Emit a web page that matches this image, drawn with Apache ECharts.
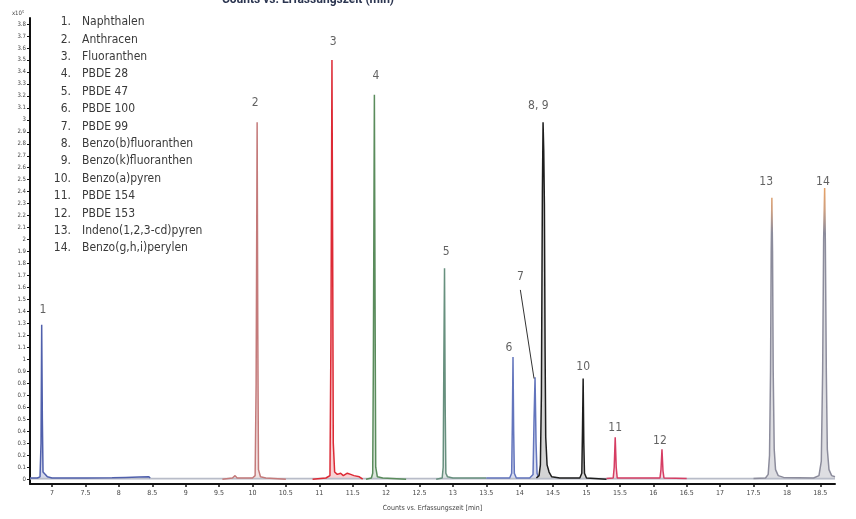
<!DOCTYPE html>
<html>
<head>
<meta charset="utf-8">
<script src="https://cdn.jsdelivr.net/npm/echarts@6/dist/echarts.min.js"></script>
<style>
html,body{margin:0;padding:0;background:#fff;}
#chart{width:856px;height:519px;}
</style>
</head>
<body>
<div id="chart"></div>
<script>
// ---- Data (x: min, y: counts x10^5) ----
const timeTicks = [7, 7.5, 8, 8.5, 9, 9.5, 10, 10.5, 11, 11.5, 12, 12.5, 13, 13.5, 14, 14.5, 15, 15.5, 16, 16.5, 17, 17.5, 18, 18.5];
const countTicks = [0, 0.1, 0.2, 0.3, 0.4, 0.5, 0.6, 0.7, 0.8, 0.9, 1, 1.1, 1.2, 1.3, 1.4, 1.5, 1.6, 1.7, 1.8, 1.9,
  2, 2.1, 2.2, 2.3, 2.4, 2.5, 2.6, 2.7, 2.8, 2.9, 3, 3.1, 3.2, 3.3, 3.4, 3.5, 3.6, 3.7, 3.8];

const compoundNumbers = ['1.', '2.', '3.', '4.', '5.', '6.', '7.', '8.', '9.', '10.', '11.', '12.', '13.', '14.'];
const compoundNames = ['Naphthalen', 'Anthracen', 'Fluoranthen', 'PBDE 28', 'PBDE 47', 'PBDE 100', 'PBDE 99',
  'Benzo(b)fluoranthen', 'Benzo(k)fluoranthen', 'Benzo(a)pyren', 'PBDE 154', 'PBDE 153',
  'Indeno(1,2,3-cd)pyren', 'Benzo(g,h,i)perylen'];

// trace segments (time window, counts)
const baselineTrace = [[6.67, 0.005], [18.72, 0.005]];
const segBlue1 = [[6.67, 0.01], [6.78, 0.01], [6.82, 0.02], [6.835, 0.3], [6.845, 1.29], [6.855, 0.5], [6.865, 0.06],
  [6.88, 0.05], [6.9, 0.04], [6.93, 0.02], [7.0, 0.01], [7.5, 0.01], [7.9, 0.012], [8.1, 0.015], [8.3, 0.018], [8.45, 0.02], [8.47, 0.01]];
const segRose = [[9.55, 0], [9.7, 0.01], [9.74, 0.03], [9.77, 0.01], [10.0, 0.01], [10.04, 0.03], [10.055, 0.8],
  [10.07, 2.98], [10.08, 1.2], [10.09, 0.08], [10.12, 0.02], [10.2, 0.01], [10.5, 0]];
const segRed = [[10.9, 0], [11.1, 0.01], [11.16, 0.03], [11.175, 1.2], [11.19, 3.5], [11.2, 2.0], [11.21, 0.3],
  [11.23, 0.06], [11.27, 0.04], [11.32, 0.05], [11.36, 0.03], [11.42, 0.05], [11.47, 0.04], [11.52, 0.03], [11.6, 0.02], [11.65, 0]];
const segGreen = [[11.7, 0], [11.78, 0.01], [11.8, 0.05], [11.81, 1.0], [11.825, 3.21], [11.835, 1.5], [11.845, 0.1],
  [11.87, 0.02], [11.95, 0.01], [12.3, 0]];
const segTeal = [[12.75, 0], [12.84, 0.01], [12.855, 0.1], [12.865, 1.0], [12.875, 1.76], [12.885, 0.6], [12.895, 0.05],
  [12.92, 0.02], [13.0, 0.01], [13.5, 0.01]];
const segBlue2 = [[13.5, 0.01], [13.85, 0.01], [13.88, 0.05], [13.89, 0.45], [13.9, 1.02], [13.91, 0.4], [13.92, 0.05],
  [13.95, 0.01], [14.15, 0.01], [14.2, 0.04], [14.215, 0.5], [14.23, 0.85], [14.245, 0.3], [14.26, 0.05], [14.28, 0.02]];
const segBlack = [[14.25, 0.01], [14.29, 0.03], [14.31, 0.12], [14.325, 0.7], [14.34, 2.4], [14.35, 2.98], [14.36, 2.75],
  [14.37, 2.3], [14.38, 1.1], [14.39, 0.35], [14.41, 0.12], [14.44, 0.06], [14.48, 0.02], [14.6, 0.01], [14.9, 0.01],
  [14.93, 0.05], [14.94, 0.4], [14.95, 0.84], [14.96, 0.3], [14.97, 0.05], [15.0, 0.01], [15.3, 0]];
const segCrimson = [[15.3, 0.005], [15.4, 0.01], [15.415, 0.1], [15.43, 0.35], [15.445, 0.1], [15.46, 0.01],
  [16.1, 0.01], [16.115, 0.08], [16.13, 0.25], [16.145, 0.07], [16.16, 0.01], [16.5, 0.005]];
const segGray = [[17.5, 0.005], [17.68, 0.01], [17.72, 0.04], [17.74, 0.2], [17.755, 0.9], [17.765, 1.9], [17.775, 2.35],
  [17.785, 1.9], [17.795, 0.9], [17.81, 0.25], [17.83, 0.08], [17.87, 0.03], [17.95, 0.015], [18.4, 0.01], [18.48, 0.03],
  [18.515, 0.15], [18.535, 0.9], [18.55, 2.0], [18.565, 2.43], [18.575, 2.0], [18.59, 0.9], [18.605, 0.25], [18.63, 0.08],
  [18.67, 0.03], [18.72, 0.02]];

// peak number labels
const peakLabelTexts = ['1', '2', '3', '4', '5', '6', '7', '8, 9', '10', '11', '12', '13', '14'];
const peakLabelTimes = [6.865, 10.04, 11.21, 11.85, 12.9, 13.84, 14.01, 14.28, 14.95, 15.43, 16.1, 17.69, 18.54];
const peakLabelCounts = [1.41, 3.14, 3.65, 3.37, 1.9, 1.1, 1.69, 3.12, 0.94, 0.43, 0.32, 2.48, 2.48];
const leader7 = [[14.01, 1.58], [14.215, 0.84]];

const chart = echarts.init(document.getElementById('chart'), null, {renderer: 'canvas'});

function trace(data, color, fill, width) {
  return {
    type: 'line', data: data, showSymbol: false, symbol: 'none', silent: true,
    lineStyle: {color: color, width: width || 1.5},
    areaStyle: fill ? {color: fill} : undefined,
    z: 3
  };
}

const legendFont = '"Liberation Sans Narrow","DejaVu Sans Condensed","Liberation Sans",sans-serif';
const legendGraphics = [];
compoundNames.forEach((name, i) => {
  const y = 22 + i * 17.4;
  legendGraphics.push({type: 'text', x: 71, y: y,
    style: {text: compoundNumbers[i], fill: '#3a3a3a', font: '12px ' + legendFont, align: 'right', verticalAlign: 'middle'}});
  legendGraphics.push({type: 'text', x: 82, y: y,
    style: {text: name, fill: '#3a3a3a', font: '12px ' + legendFont, align: 'left', verticalAlign: 'middle'}});
});

// gray trace with an orange tint near the peak tops (as in the reference)
const grayGradient = new echarts.graphic.LinearGradient(0, 0, 0, 1, [
  {offset: 0, color: '#e8a060'}, {offset: 0.08, color: '#d0a080'}, {offset: 0.16, color: '#8c8c9c'}, {offset: 1, color: '#8c8c9c'}
]);

const option = {
  animation: false,
  backgroundColor: '#ffffff',
  grid: {left: 30, right: 21, top: 18, bottom: 35},
  xAxis: {
    type: 'value', min: 6.67, max: 18.72,
    axisLine: {onZero: false, lineStyle: {color: '#111', width: 2}},
    axisTick: {customValues: timeTicks, length: 3, lineStyle: {color: '#111', width: 1.5}},
    axisLabel: {customValues: timeTicks, fontSize: 7, color: '#444', margin: 6, fontFamily: legendFont},
    splitLine: {show: false},
    name: 'Counts vs. Erfassungszeit [min]', nameLocation: 'middle', nameGap: 21,
    nameTextStyle: {fontSize: 7, color: '#444', fontFamily: legendFont}
  },
  yAxis: {
    type: 'value', min: -0.04, max: 3.85,
    axisLine: {show: true, lineStyle: {color: '#111', width: 2}},
    axisTick: {show: true, customValues: countTicks, length: 3, lineStyle: {color: '#111', width: 1}},
    axisLabel: {customValues: countTicks, fontSize: 6, color: '#444', margin: 4, fontFamily: legendFont},
    splitLine: {show: false}
  },
  graphic: [
    {type: 'text', x: 308, y: 0, style: {text: 'Counts vs. Erfassungszeit (min)', fill: '#2b3550',
      font: 'bold 12px Roboto, "Liberation Sans", sans-serif', align: 'center', verticalAlign: 'middle'}},
    {type: 'text', x: 18, y: 13, style: {text: 'x10⁵', fill: '#444', font: '6px ' + legendFont, align: 'center', verticalAlign: 'middle'}}
  ].concat(legendGraphics),
  series: [
    trace(baselineTrace, '#b8bcc8', null, 1.8),
    trace(segBlue1, '#5060ac', 'rgba(80,96,172,0.35)'),
    trace(segRose, '#c47a7a', 'rgba(196,122,122,0.3)'),
    trace(segRed, '#dd2a35', 'rgba(221,42,53,0.3)'),
    trace(segGreen, '#5a8c5c', 'rgba(90,140,92,0.3)'),
    trace(segTeal, '#67907e', 'rgba(103,144,126,0.3)'),
    trace(segBlue2, '#6375bd', 'rgba(99,117,189,0.35)'),
    trace(segBlack, '#1e1e1e', 'rgba(120,120,120,0.45)'),
    trace(segCrimson, '#d63d63', 'rgba(214,61,99,0.3)'),
    trace(segGray, grayGradient, 'rgba(150,150,165,0.45)'),
    {type: 'line', data: leader7, showSymbol: false, symbol: 'none', silent: true,
      lineStyle: {color: '#333', width: 1}, z: 4},
    {type: 'scatter', symbolSize: 0, silent: true, z: 5,
      data: peakLabelTimes.map((t, i) => [t, peakLabelCounts[i]]),
      label: {show: true, position: 'inside', color: '#3a3a3a', fontSize: 12, fontFamily: legendFont,
        formatter: p => peakLabelTexts[p.dataIndex]}}
  ]
};
chart.setOption(option);
</script>
</body>
</html>
